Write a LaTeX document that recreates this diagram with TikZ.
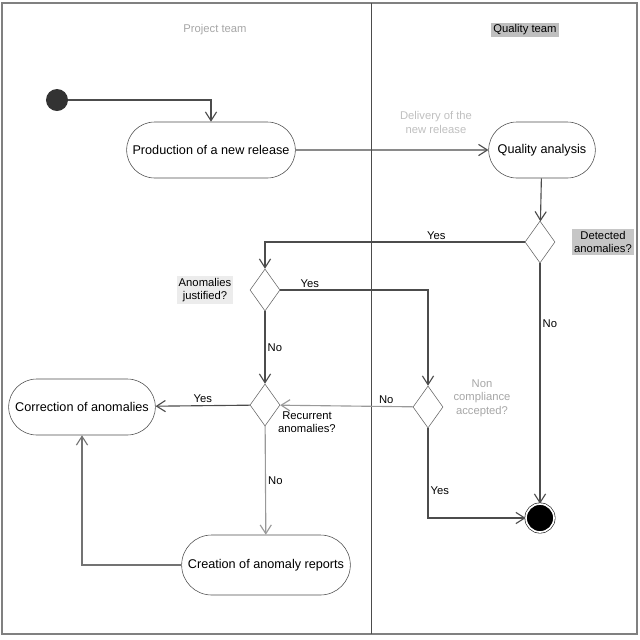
\documentclass[tikz,border=0pt]{standalone}
\usepackage{fontspec}
\setmainfont{Liberation Sans}
\usetikzlibrary{arrows.meta, positioning, shapes.geometric, shapes.misc}

\begin{document}
\begin{tikzpicture}[
    x=0.025cm, y=-0.025cm,
    action/.style={draw=black!70, rounded rectangle, minimum height=1.4cm,
                   font=\fontsize{9}{10.5}\selectfont},
    choice/.style={draw=black!60, diamond, minimum width=0.75cm,
                   minimum height=1.05cm, inner sep=0pt},
    flow/.style={draw=black!70, thick, -{Straight Barb[length=2.2mm, width=2.8mm]}},
    lbl/.style={font=\fontsize{8}{9.5}\selectfont, inner sep=1.5pt, align=center},
    >=Stealth
  ]
  \useasboundingbox (0,0) rectangle (640,640);

  % swimlanes
  \draw[gray, line width=1.5pt] (2,3) rectangle (637,634);
  \draw[black!70] (371,3) -- (371,634);
  \node[lbl, text=gray!70] (lanep) at (215,30) {Project team};
  \node[lbl, fill=gray!50] (laneq) at (525,30) {Quality team};

  % actions
  \node[circle, fill=black!80, minimum size=0.55cm] (init) at (57,100) {};
  \node[action, minimum width=4.45cm] (prod) at (211,150) {Production of a new release};
  \node[action, minimum width=2.9cm] (qa) at (542,150) {Quality analysis};
  \node[action, minimum width=3.9cm] (corr) at (82,407) {Correction of anomalies};
  \node[action, minimum width=4.45cm, minimum height=1.5cm] (crea) at (266,565)
    {Creation of anomaly reports};
  \node[circle, fill=black, draw=black, double=white, double distance=1.2pt,
        minimum size=0.7cm] (fin) at (540,518) {};

  % decisions
  \node[choice] (det) at (540,242) {};
  \node[choice] (just) at (265,290) {};
  \node[choice] (recur) at (265,405) {};
  \node[choice] (ncomp) at (428,407) {};
  \node[lbl, fill=gray!45] (detl) at (603,242) {Detected\\anomalies?};
  \node[lbl, fill=gray!15] (justl) at (205,290) {Anomalies\\justified?};
  \node[lbl] (recurl) at (307,422) {Recurrent\\anomalies?};
  \node[lbl, text=gray!70] (ncompl) at (482,398) {Non\\compliance\\accepted?};

  % flows
  \draw[flow] (init) -| (prod.north);
  \draw[flow] (prod) -- (qa)
    node[lbl, midway, above=0.35cm, xshift=1.1cm, text=gray!50] (rel)
    {Delivery of the\\new release};
  \draw[flow] (qa) -- (det);
  \draw[flow] (det.west) -| node[lbl, pos=0.17, above] {Yes} (just.north);
  \draw[flow] (just.east) -| node[lbl, pos=0.1, above] {Yes} (ncomp.north);
  \draw[flow] (just) -- node[lbl, right] {No} (recur);
  \draw[flow] (recur) -- node[lbl, above] {Yes} (corr);
  \draw[flow, black!40] (recur) -- node[lbl, right, text=black] {No} (crea);
  \draw[flow, black!55] (crea.west) -| (corr.south);
  \draw[flow, black!40] (ncomp) -- node[lbl, above, pos=0.2, text=black] {No} (recur);
  \draw[flow] (ncomp.south) |- node[lbl, pos=0.35, right] {Yes} (fin.west);
  \draw[flow] (det) -- node[lbl, pos=0.25, right] {No} (fin);
\end{tikzpicture}
\end{document}
